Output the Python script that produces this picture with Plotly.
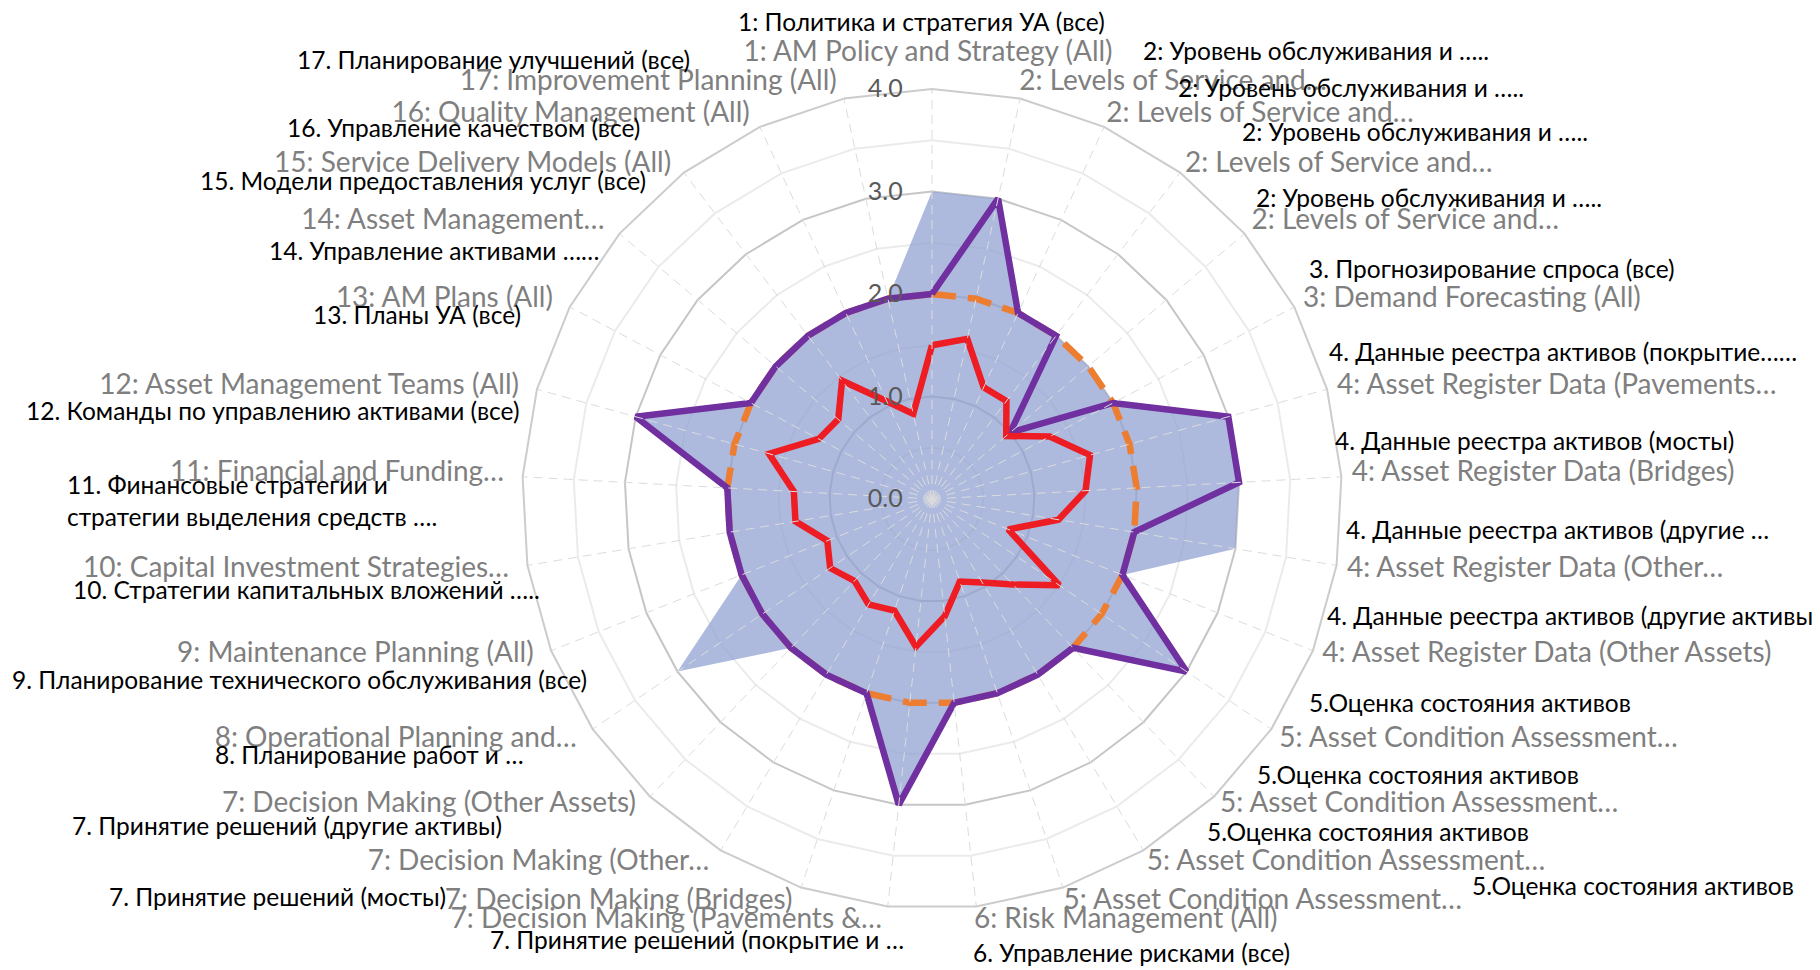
import plotly.graph_objects as go

# ---------------- data ----------------
categories = [
    "1: AM Policy and Strategy (All)",
    "2: Levels of Service and…",
    "2: Levels of Service and…",
    "2: Levels of Service and…",
    "2: Levels of Service and…",
    "3: Demand Forecasting (All)",
    "4: Asset Register Data (Pavements…",
    "4: Asset Register Data (Bridges)",
    "4: Asset Register Data (Other…",
    "4: Asset Register Data (Other Assets)",
    "5: Asset Condition Assessment…",
    "5: Asset Condition Assessment…",
    "5: Asset Condition Assessment…",
    "5: Asset Condition Assessment…",
    "6: Risk Management (All)",
    "7: Decision Making (Pavements &…",
    "7: Decision Making (Bridges)",
    "7: Decision Making (Other…",
    "7: Decision Making (Other Assets)",
    "8: Operational Planning and…",
    "9: Maintenance Planning (All)",
    "10: Capital Investment Strategies…",
    "11: Financial and Funding…",
    "12: Asset Management Teams (All)",
    "13: AM Plans (All)",
    "14: Asset Management…",
    "15: Service Delivery Models (All)",
    "16: Quality Management (All)",
    "17: Improvement Planning (All)",
]

target_fill = [3, 3, 2, 2, 2, 2, 3, 3, 3, 2, 3, 2, 2, 2, 2, 3, 2, 2, 2, 3, 2, 2, 2, 3, 2, 2, 2, 2, 2]
purple_vals = [2, 3, 2, 2, 1, 2, 3, 3, 2, 2, 3, 2, 2, 2, 2, 3, 2, 2, 2, 2, 2, 2, 2, 3, 2, 2, 2, 2, 2]
orange_vals = [2, 2, 2, 2, 2, 2, 2, 2, 2, 2, 2, 2, 2, 2, 2, 2, 2, 2, 2, 2, 2, 2, 2, 2, 2, 2, 2, 2, 2]
red_vals = [1.5, 1.6, 1.2, 1.2, 0.95, 1.3, 1.6, 1.5, 1.25, 0.8, 1.5, 1.15, 0.95, 0.85, 1.15,
            1.45, 1.15, 1.2, 1.1, 1.2, 1.1, 1.35, 1.35, 1.65, 1.25, 1.2, 1.45, 1.05, 0.85]

radial_ticks = [0, 1, 2, 3, 4]
radial_ticktext = ["0.0", "1.0", "2.0", "3.0", "4.0"]
radial_minor = [0.5, 1.5, 2.5, 3.5]

ru_labels = [
    "1: Политика и стратегия УА (все)",
    "17. Планирование улучшений (все)",
    "16. Управление качеством (все)",
    "15. Модели предоставления услуг (все)",
    "14. Управление активами ……",
    "13. Планы УА (все)",
    "12. Команды по управлению активами (все)",
    "11. Финансовые стратегии и<br>стратегии выделения средств ….",
    "10. Стратегии капитальных вложений …..",
    "9. Планирование технического обслуживания (все)",
    "8. Планирование работ и …",
    "7. Принятие решений (другие активы)",
    "7. Принятие решений (мосты)",
    "7. Принятие решений (покрытие и …",
    "6. Управление рисками (все)",
    "5.Оценка состояния активов",
    "5.Оценка состояния активов",
    "5.Оценка состояния активов",
    "5.Оценка состояния активов",
    "4. Данные реестра активов (другие активы)",
    "4. Данные реестра активов (другие …",
    "4. Данные реестра активов (мосты)",
    "4. Данные реестра активов (покрытие……",
    "3. Прогнозирование спроса (все)",
    "2: Уровень обслуживания и …..",
    "2: Уровень обслуживания и …..",
    "2: Уровень обслуживания и …..",
    "2: Уровень обслуживания и …..",
]

# ---------------- layout constants (pixels of the 1820x970 page) ----------------
W, H = 1820, 970
ru_pos = [  # (left x, centre y) in pixels
    (728, 14), (287, 51), (277, 119), (190, 172), (259, 242), (303, 306),
    (16, 402), (57, 492), (63, 581), (2, 671), (205, 746), (62, 817),
    (99, 888), (480, 931), (963, 944), (1462, 877), (1197, 823), (1247, 766),
    (1299, 694), (1317, 607), (1336, 521), (1325, 432), (1319, 343), (1299, 261),
    (1246, 190), (1232, 123), (1168, 79), (1133, 43),
]

FONT = "Lato, 'Open Sans', sans-serif"
cx, cy, R = 924, 491, 410          # plot (grid + data) centre and outer radius
lx, ly, LR = 920, 480, 424          # ring on which the category labels sit
# category-label groups: (category indices, vertical nudge of their ring in px)
label_groups = [
    ([0], 3),
    ([1, 2, 3, 26, 27, 28], 20),
    ([4, 5, 6, 23, 24, 25], 12),
    ([7, 8, 21, 22], 6),
    ([9, 10, 19, 20], -3),
    ([11, 12, 13, 14, 15, 16, 17, 18], -11),
]


def dom(x0, y0, r):
    return dict(x=[(x0 - r) / W, (x0 + r) / W], y=[(H - y0 - r) / H, (H - y0 + r) / H])


# unique category keys (labels repeat); an invisible suffix keeps them distinct
seen = {}
keys = []
for c in categories:
    k = seen.get(c, 0)
    seen[c] = k + 1
    keys.append(c + "\u200b" * k)


def closed(v):
    return list(v) + [v[0]]


th = closed(keys)

label_subplots = ["polar%d" % (4 + g) for g in range(len(label_groups))]

fig = go.Figure()
# invisible helper traces so every overlay subplot gets drawn
for sp in ["polar", "polar3"] + label_subplots:
    fig.add_trace(go.Scatterpolar(r=red_vals, theta=keys, mode="markers",
                                  marker=dict(size=1, opacity=0), hoverinfo="skip",
                                  showlegend=False, subplot=sp))

fig.add_trace(go.Scatterpolar(
    r=closed(target_fill), theta=th, mode="lines", fill="toself",
    fillcolor="rgba(142,159,209,0.72)", line=dict(width=0, color="rgba(0,0,0,0)"),
    name="Series 1", subplot="polar2"))
fig.add_trace(go.Scatterpolar(
    r=closed(orange_vals), theta=th, mode="lines",
    line=dict(color="#ED7D31", width=6.5, dash="24px,12px"),
    name="Series 2", subplot="polar2"))
fig.add_trace(go.Scatterpolar(
    r=closed(purple_vals), theta=th, mode="lines",
    line=dict(color="#7030A0", width=6.5),
    name="Series 3", subplot="polar2"))
fig.add_trace(go.Scatterpolar(
    r=closed(red_vals), theta=th, mode="lines",
    line=dict(color="#EE1D23", width=6.5),
    name="Series 4", subplot="polar2"))

ang_common = dict(type="category", categoryorder="array", categoryarray=keys,
                  rotation=90, direction="clockwise", ticks="")
hidden_ang = dict(**ang_common, showgrid=False, showticklabels=False, showline=False)
hidden_rad = dict(range=[0, 4], showgrid=False, showticklabels=False, showline=False, ticks="")

layout = dict(
    width=W, height=H, margin=dict(l=0, r=0, t=0, b=0),
    paper_bgcolor="white", showlegend=False,
    # light half-step rings (bottom)
    polar=dict(
        domain=dom(cx, cy, R), bgcolor="white", gridshape="linear",
        radialaxis=dict(range=[0, 4], tickvals=radial_minor, showticklabels=False,
                        gridcolor="#ebebeb", gridwidth=1.5, showline=False, ticks=""),
        angularaxis=hidden_ang,
    ),
    # data with the integer rings underneath
    polar2=dict(
        domain=dom(cx, cy, R), bgcolor="rgba(0,0,0,0)", gridshape="linear",
        radialaxis=dict(range=[0, 4], tickvals=radial_ticks, showticklabels=False,
                        gridcolor="#c6c6c6", gridwidth=1.7, showline=False, ticks=""),
        angularaxis=hidden_ang,
    ),
    # dashed spokes, outer line and value labels on top of the data
    polar3=dict(
        domain=dom(cx, cy, R), bgcolor="rgba(0,0,0,0)", gridshape="linear",
        radialaxis=dict(range=[0, 4], tickvals=radial_ticks, ticktext=radial_ticktext,
                        angle=90, tickangle=90, side="counterclockwise", showgrid=False,
                        showline=False, ticks="outside", ticklen=20,
                        tickcolor="rgba(0,0,0,0)",
                        tickfont=dict(family=FONT, size=25, color="#595959")),
        angularaxis=dict(**ang_common, showgrid=True, gridcolor="#dcdcdc", gridwidth=1.4,
                         griddash="9px,6px", showline=True, linecolor="#cccccc",
                         linewidth=2, showticklabels=False),
    ),
)
# category labels, placed by the angular axis of overlay subplots
for sp, (idx, dy) in zip(label_subplots, label_groups):
    layout[sp] = dict(
        domain=dom(lx, ly + dy, LR), bgcolor="rgba(0,0,0,0)", gridshape="linear",
        radialaxis=hidden_rad,
        angularaxis=dict(**ang_common, showgrid=False, showline=False,
                         tickmode="array", tickvals=[keys[i] for i in idx],
                         ticktext=[categories[i] for i in idx],
                         tickfont=dict(family=FONT, size=28, color="#7f7f7f")),
    )
fig.update_layout(**layout)

for txt, (px, py) in zip(ru_labels, ru_pos):
    fig.add_annotation(
        text=txt, x=px / W, y=1 - py / H, xref="paper", yref="paper",
        xanchor="left", yanchor="middle", align="left", showarrow=False,
        font=dict(family=FONT, size=24.5, color="#000000"))

fig.write_html("out.html")
